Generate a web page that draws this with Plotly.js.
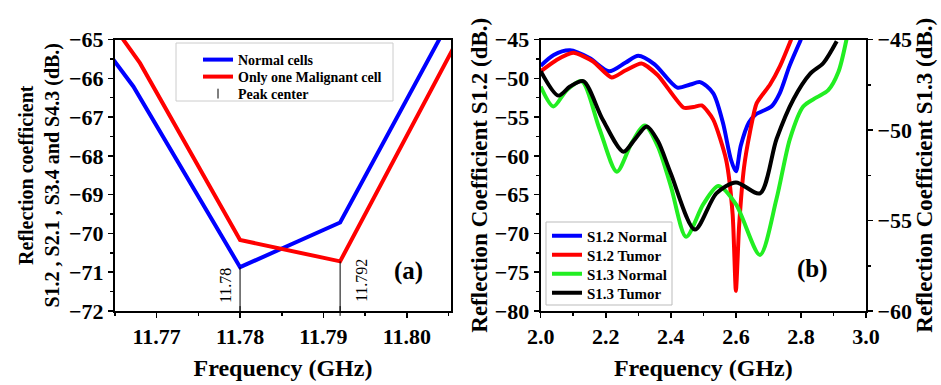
<!DOCTYPE html>
<html>
<head>
<meta charset="utf-8">
<script src="https://cdn.plot.ly/plotly-3.0.1.min.js"></script>
<style>html,body{margin:0;padding:0;background:#fff;}#chart{width:941px;height:385px;}</style>
</head>
<body>
<div id="chart"></div>
<script>
// ---- Panel (a) data ----
var normalFreq = [11.763, 11.7672, 11.78, 11.792, 11.806];
var normalS = [-65.0, -66.21, -70.87, -69.72, -64.16];
var malignantFreq = [11.763, 11.768, 11.78, 11.792, 11.806];
var malignantS = [-64.1, -65.61, -70.17, -70.72, -65.05];

// ---- Panel (b) data ----
var s12NormalF = [2.00, 2.04, 2.09, 2.15, 2.21, 2.26, 2.30, 2.35, 2.42, 2.46, 2.49, 2.53, 2.56, 2.585, 2.60, 2.615, 2.64, 2.66, 2.71, 2.735, 2.765, 2.80];
var s12NormalS = [-48.4, -47.0, -46.4, -47.4, -49.1, -48.0, -47.1, -48.2, -51.2, -50.8, -50.5, -51.9, -55.7, -60.5, -62.0, -58.7, -55.7, -54.7, -53.6, -51.9, -48.4, -45.0];
var s12TumorF = [2.00, 2.05, 2.10, 2.16, 2.218, 2.26, 2.31, 2.36, 2.44, 2.47, 2.495, 2.53, 2.57, 2.59, 2.60, 2.61, 2.625, 2.643, 2.664, 2.705, 2.736, 2.77];
var s12TumorS = [-49.1, -47.6, -46.7, -47.8, -49.9, -49.0, -48.1, -49.6, -53.8, -53.7, -53.5, -55.3, -60.5, -67.5, -77.4, -69.0, -61.5, -57.0, -53.2, -50.8, -48.4, -45.0];
var s13NormalF = [2.00, 2.039, 2.08, 2.126, 2.18, 2.234, 2.28, 2.32, 2.36, 2.40, 2.447, 2.50, 2.546, 2.60, 2.674, 2.725, 2.766, 2.807, 2.848, 2.884, 2.915, 2.94];
var s13NormalS = [-47.6, -48.7, -47.8, -47.3, -49.9, -52.3, -50.7, -49.75, -50.9, -53.1, -55.9, -54.1, -53.1, -54.1, -56.9, -53.8, -50.5, -48.7, -48.2, -47.8, -46.8, -45.0];
var s13TumorF = [2.00, 2.054, 2.09, 2.131, 2.19, 2.254, 2.29, 2.326, 2.36, 2.40, 2.474, 2.54, 2.60, 2.674, 2.725, 2.777, 2.828, 2.869, 2.91];
var s13TumorS = [-46.75, -48.1, -47.6, -47.3, -49.4, -51.2, -50.5, -49.8, -50.6, -52.4, -55.5, -53.5, -52.9, -53.5, -50.5, -48.3, -46.9, -46.3, -45.1];

var seriesNames = ["Normal cells", "Only one Malignant cell", "Peak center"];
var seriesNamesB = ["S1.2 Normal", "S1.2 Tumor", "S1.3 Normal", "S1.3 Tumor"];

// peak centers derived from the minima of the two (a) series
function minIdx(arr){ var k=0; for(var i=1;i<arr.length;i++){ if(arr[i]<arr[k]) k=i; } return k; }
var yBottomA = -72;
var peakX = [normalFreq[minIdx(normalS)], malignantFreq[minIdx(malignantS)]];
var peakY = [normalS[minIdx(normalS)], malignantS[minIdx(malignantS)]];

var SERIF = "'Liberation Serif', 'Times New Roman', serif";
function bf(size, color){ return {family: SERIF, size: size, weight: "bold", color: color || "#000"}; }

var traces = [
  {x: normalFreq, y: normalS, mode: "lines", name: seriesNames[0], line: {color: "#0000ff", width: 4}, xaxis: "x", yaxis: "y", legend: "legend2"},
  {x: malignantFreq, y: malignantS, mode: "lines", name: seriesNames[1], line: {color: "#ff0000", width: 4}, xaxis: "x", yaxis: "y", legend: "legend3"},
  {x: peakX, y: peakX.map(function(){return yBottomA;}), mode: "markers", name: seriesNames[2],
   marker: {symbol: "line-ns-open", size: 7, color: "#000", line: {color: "#000", width: 1}},
   error_y: {type: "data", symmetric: false, array: peakY.map(function(v){return v - yBottomA;}), arrayminus: peakY.map(function(){return 0;}), width: 0, thickness: 1, color: "#000"},
   xaxis: "x", yaxis: "y", legend: "legend4", cliponaxis: false},

  {x: s12NormalF, y: s12NormalS, mode: "lines", name: seriesNamesB[0], line: {color: "#0000ff", width: 4, shape: "spline", smoothing: 0.8}, xaxis: "x2", yaxis: "y2", legend: "legend5"},
  {x: s12TumorF, y: s12TumorS, mode: "lines", name: seriesNamesB[1], line: {color: "#ff0000", width: 4, shape: "spline", smoothing: 0.6}, xaxis: "x2", yaxis: "y2", legend: "legend6"},
  {x: s13NormalF, y: s13NormalS, mode: "lines", name: seriesNamesB[2], line: {color: "#22ee22", width: 4, shape: "spline", smoothing: 0.8}, xaxis: "x2", yaxis: "y3", legend: "legend7"},
  {x: s13TumorF, y: s13TumorS, mode: "lines", name: seriesNamesB[3], line: {color: "#000000", width: 4, shape: "spline", smoothing: 0.8}, xaxis: "x2", yaxis: "y3", legend: "legend8"}
];

var W = 941, H = 385;
var yDom = [1 - 311/H, 1 - 39.5/H];
function axisBase(extra){
  var a = {showline: true, linewidth: 2, linecolor: "#000", showgrid: false, zeroline: false,
    ticks: "outside", ticklen: 5, tickwidth: 1.5, tickcolor: "#000", tickfont: bf(22), automargin: false};
  for (var k in extra) a[k] = extra[k];
  return a;
}
function legendAt(xPx, yPx, size){
  return {x: xPx/W, y: 1 - yPx/H, xanchor: "left", yanchor: "middle", bgcolor: "rgba(0,0,0,0)", borderwidth: 0, font: bf(size)};
}

var layout = {
  width: W, height: H,
  margin: {l: 0, r: 0, t: 0, b: 0},
  paper_bgcolor: "#fff", plot_bgcolor: "#fff",
  showlegend: true,
  font: {family: SERIF, color: "#000"},
  xaxis: axisBase({domain: [115/W, 451/W], range: [11.765, 11.8053], anchor: "y", mirror: true,
    tick0: 11.77, dtick: 0.01, tickformat: ".2f",
    minor: {dtick: 0.005, tick0: 11.765, ticks: "outside", ticklen: 3, tickcolor: "#000"},
    title: {text: "Frequency (GHz)", font: bf(24), standoff: 11}}),
  yaxis: axisBase({domain: yDom, range: [-72, -65], anchor: "x", mirror: true, dtick: 1,
    minor: {dtick: 0.5, ticks: "outside", ticklen: 3, tickcolor: "#000"},
    title: {text: "Reflection coefficient<br>S1.2 , S2.1 , S3.4 and S4.3 (dB.)", font: bf(20), standoff: 4}}),
  xaxis2: axisBase({domain: [540.7/W, 866/W], range: [2.0, 3.0], anchor: "y2", mirror: true,
    dtick: 0.2, tickformat: ".1f",
    minor: {dtick: 0.1, ticks: "outside", ticklen: 3, tickcolor: "#000"},
    title: {text: "Frequency (GHz)", font: bf(24), standoff: 11}}),
  yaxis2: axisBase({domain: yDom, range: [-80, -45], anchor: "x2", dtick: 5,
    minor: {dtick: 2.5, ticks: "outside", ticklen: 3, tickcolor: "#000"},
    title: {text: "Reflection Coefficient S1.2 (dB.)", font: bf(23), standoff: 1}}),
  yaxis3: axisBase({domain: yDom, range: [-60, -45], anchor: "x2", overlaying: "y2", side: "right", dtick: 5,
    minor: {dtick: 2.5, ticks: "outside", ticklen: 3, tickcolor: "#000"},
    title: {text: "Reflection Coefficient S1.3 (dB.)", font: bf(23), standoff: 2}}),
  legend2: legendAt(198, 60, 14),
  legend3: legendAt(198, 77, 14),
  legend4: legendAt(198, 94, 14),
  legend5: legendAt(547, 236, 15),
  legend6: legendAt(547, 255, 15),
  legend7: legendAt(547, 274, 15),
  legend8: legendAt(547, 293, 15),
  shapes: [
    {type: "rect", xref: "paper", yref: "paper", x0: 176/W, x1: 393/W, y0: 1 - 101/H, y1: 1 - 43/H,
     line: {color: "#cccccc", width: 1}, fillcolor: "#fff", layer: "below"},
    {type: "rect", xref: "paper", yref: "paper", x0: 546/W, x1: 672/W, y0: 1 - 305/H, y1: 1 - 222/H,
     line: {color: "#bbbbbb", width: 1}, fillcolor: "#fff", layer: "above"}
  ],
  annotations: [
    {x: peakX[0], y: yBottomA, xref: "x", yref: "y", text: String(peakX[0]), textangle: -90, showarrow: false,
     xanchor: "center", yanchor: "middle", xshift: -15, yshift: 25, font: {family: SERIF, size: 16, color: "#000"}},
    {x: peakX[1], y: yBottomA, xref: "x", yref: "y", text: String(peakX[1]), textangle: -90, showarrow: false,
     xanchor: "center", yanchor: "middle", xshift: 21, yshift: 30, font: {family: SERIF, size: 16, color: "#000"}},
    {x: 408/W, y: 1 - 287/H, xref: "paper", yref: "paper", text: "(a)", showarrow: false, font: bf(25)},
    {x: 830/W, y: 1 - 285/H, xref: "paper", yref: "paper", text: "(b)", showarrow: false, font: bf(25)}
  ]
};

Plotly.newPlot("chart", traces, layout, {displayModeBar: false, staticPlot: true});
</script>
</body>
</html>
